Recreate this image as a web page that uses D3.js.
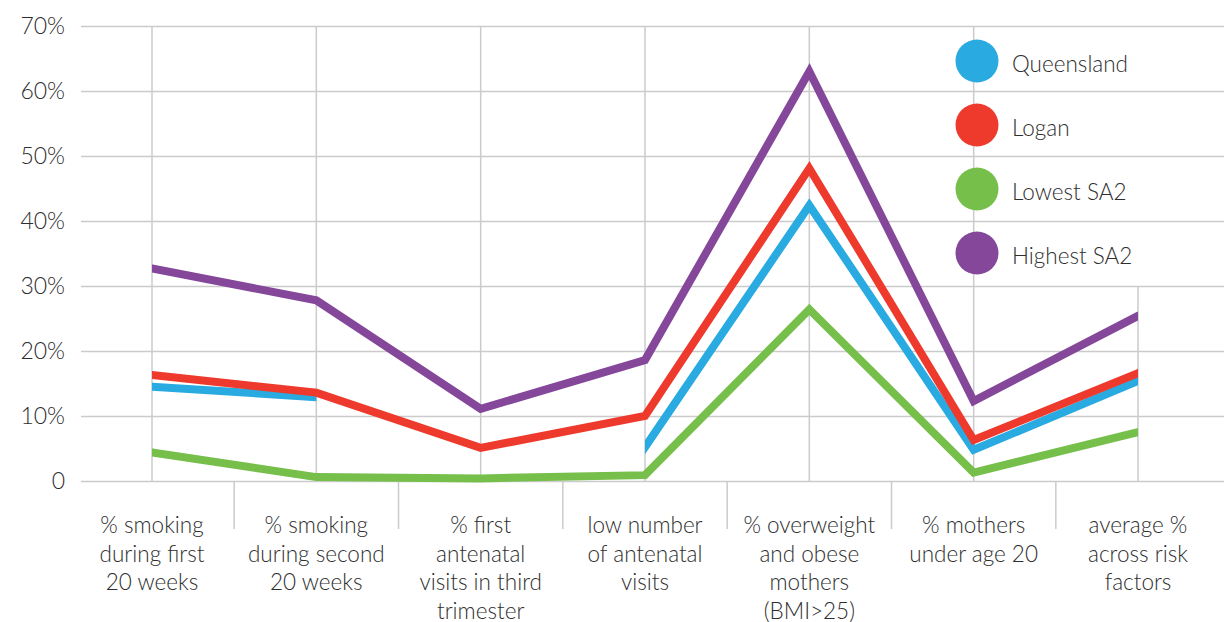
<!DOCTYPE html>
<html>
<head>
<meta charset="utf-8">
<script src="https://cdn.jsdelivr.net/npm/d3@7"></script>
<style>
  html, body { margin: 0; padding: 0; background: #fff; }
  svg text { font-family: Lato, "Open Sans", sans-serif; font-weight: 300; fill: #2e2e2e; }
</style>
</head>
<body>
<svg id="chart" width="1224" height="622"></svg>
<script>
// Maternal risk factors by area (percent)
const categories = [
  ["% smoking", "during first", "20 weeks"],
  ["% smoking", "during second", "20 weeks"],
  ["% first", "antenatal", "visits in third", "trimester"],
  ["low number", "of antenatal", "visits"],
  ["% overweight", "and obese", "mothers", "(BMI>25)"],
  ["% mothers", "under age 20"],
  ["average %", "across risk", "factors"]
];
const seriesNames = ["Queensland", "Logan", "Lowest SA2", "Highest SA2"];
const seriesColors = ["#29abe2", "#ee3a2d", "#76bf4b", "#84479a"];
const queensland = [14.5, 12.9, null, 5.2, 42.4, 4.8, 15.4];
const logan      = [16.3, 13.6, 5.1, 10.0, 48.1, 6.3, 16.6];
const lowestSA2  = [4.4, 0.6, 0.4, 0.9, 26.4, 1.3, 7.5];
const highestSA2 = [32.7, 27.8, 11.1, 18.6, 63.0, 12.3, 25.4];
const yTicks = [0, 10, 20, 30, 40, 50, 60, 70];

const seriesValues = [queensland, logan, lowestSA2, highestSA2];

const svg = d3.select("#chart");
const plotLeft = 81, plotRight = 1224, plotTop = 26, plotBottom = 481;
const gridColor = "#cbcbcb";

const keys = categories.map((c, i) => i);
const x = d3.scalePoint().domain(keys).range([152, 1138]);
const y = d3.scaleLinear().domain([0, 70]).range([plotBottom, plotTop]);

// Horizontal gridlines with percentage labels
const yAxis = d3.axisLeft(y)
  .tickValues(yTicks)
  .tickSize(-(plotRight - plotLeft))
  .tickPadding(16)
  .tickFormat(d => d === 0 ? "0" : d + "%");
const gy = svg.append("g").attr("transform", `translate(${plotLeft},0)`).call(yAxis);
gy.select(".domain").remove();
gy.selectAll(".tick line").attr("stroke", gridColor).attr("stroke-width", 1.5);
gy.selectAll(".tick text")
  .attr("font-size", 23)
  .attr("x", -16)
  .style("font-family", "Lato, sans-serif")
  .style("font-weight", 300)
  .style("fill", "#2e2e2e");

// Vertical gridlines through each category point
const last = keys.length - 1;
svg.append("g").selectAll("line").data(keys).join("line")
  .attr("x1", d => x(d)).attr("x2", d => x(d))
  .attr("y1", d => d === last ? y(30) : y(70))
  .attr("y2", y(0))
  .attr("stroke", gridColor).attr("stroke-width", 1.5);

// Category dividers below the baseline
const dividers = keys.slice(0, -1).map(i => (x(i) + x(i + 1)) / 2);
svg.append("g").selectAll("line").data(dividers).join("line")
  .attr("x1", d => d).attr("x2", d => d)
  .attr("y1", y(0)).attr("y2", 529)
  .attr("stroke", gridColor).attr("stroke-width", 1.5);

// Category labels
const labels = svg.append("g").selectAll("text").data(keys).join("text")
  .attr("text-anchor", "middle")
  .attr("font-size", 22.5);
labels.selectAll("tspan").data(i => categories[i].map(t => ({ t, i }))).join("tspan")
  .attr("x", d => x(d.i))
  .attr("y", (d, j) => 533 + j * 28.5)
  .text(d => d.t);

// Series lines: each unbroken run is clipped to its own x-extent
const defs = svg.append("defs");
const linesG = svg.append("g");
const lineExt = d3.line()
  .x(d => x(0) + d.i * x.step())
  .y(d => y(d.v));
seriesValues.forEach((vals, s) => {
  const runs = [];
  let cur = [];
  vals.forEach((v, i) => {
    if (v == null) { if (cur.length) runs.push(cur); cur = []; }
    else cur.push({ i, v });
  });
  if (cur.length) runs.push(cur);
  runs.forEach((run, r) => {
    const id = `clip-${s}-${r}`;
    const x0 = x(run[0].i), x1 = x(run[run.length - 1].i);
    defs.append("clipPath").attr("id", id)
      .append("rect").attr("x", x0).attr("y", 0)
      .attr("width", x1 - x0).attr("height", 622);
    // extend the path slightly past the ends so the clip cuts it square
    const pts = run.slice();
    if (pts.length > 1) {
      const a = pts[0], b = pts[1];
      const c = pts[pts.length - 2], e = pts[pts.length - 1];
      const ext = 0.1;
      pts.unshift({ i: a.i - ext, v: a.v - (b.v - a.v) * ext });
      pts.push({ i: e.i + ext, v: e.v + (e.v - c.v) * ext });
    }
    linesG.append("path")
      .attr("d", lineExt(pts))
      .attr("clip-path", `url(#${id})`)
      .attr("fill", "none")
      .attr("stroke", seriesColors[s])
      .attr("stroke-width", 8)
      .attr("stroke-linejoin", "miter")
      .attr("stroke-miterlimit", 10);
  });
});

// Legend
const legend = svg.append("g").selectAll("g").data(seriesNames).join("g")
  .attr("transform", (d, i) => `translate(977,${61 + i * 64})`);
legend.append("circle").attr("r", 21.5).attr("fill", (d, i) => seriesColors[i]);
legend.append("text")
  .attr("x", 35).attr("y", 11)
  .attr("font-size", 22.5)
  .text(d => d);
</script>
</body>
</html>
